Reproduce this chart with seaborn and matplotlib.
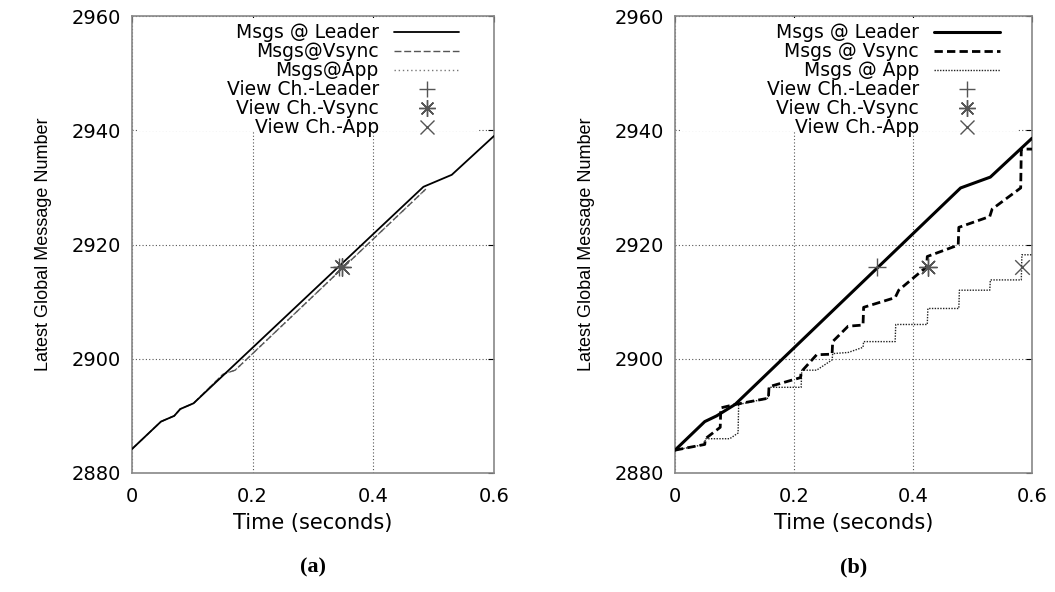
import matplotlib
matplotlib.use("Agg")
import matplotlib.pyplot as plt
from matplotlib.lines import Line2D
from matplotlib.patches import Rectangle
from matplotlib import font_manager
import seaborn as sns
import pandas as pd

# ---------------- data ----------------
# Panel (a)
leader_t_a = [0, 0.048, 0.070, 0.080, 0.102, 0.483, 0.530, 0.600]
leader_v_a = [2884.2, 2889.0, 2890.0, 2891.2, 2892.2, 2930.1, 2932.2, 2939.0]
vsync_t_a = [0, 0.048, 0.070, 0.080, 0.102, 0.151, 0.171, 0.487]
vsync_v_a = [2884.2, 2889.0, 2890.0, 2891.2, 2892.2, 2897.3, 2898.0, 2929.7]
app_t_a = [0, 0.048, 0.070, 0.080, 0.102, 0.151, 0.171, 0.487]
app_v_a = [2884.2, 2889.0, 2890.0, 2891.2, 2892.2, 2897.3, 2898.0, 2929.7]
vc_leader_a = (0.343, 2916.0)
vc_vsync_a = (0.348, 2916.0)
vc_app_a = (0.348, 2916.0)

# Panel (b)
leader_t_b = [0, 0.050, 0.070, 0.101, 0.480, 0.530, 0.600]
leader_v_b = [2884.0, 2889.0, 2890.0, 2892.0, 2929.9, 2931.8, 2938.6]
vsync_t_b = [0, 0.050, 0.051, 0.076, 0.077, 0.101, 0.157, 0.158, 0.211, 0.212,
             0.238, 0.264, 0.265, 0.291, 0.316, 0.317, 0.370, 0.376, 0.423,
             0.424, 0.476, 0.477, 0.529, 0.533, 0.581, 0.582, 0.600]
vsync_v_b = [2884.0, 2885.0, 2886.0, 2888.0, 2891.4, 2892.0, 2893.1, 2895.1, 2896.7, 2897.7,
             2900.7, 2900.8, 2903.0, 2905.7, 2905.9, 2909.0, 2910.7, 2912.0, 2916.1,
             2917.9, 2919.9, 2923.0, 2924.9, 2926.2, 2929.9, 2936.7, 2936.7]
app_t_b = [0, 0.050, 0.051, 0.092, 0.106, 0.107, 0.157, 0.158, 0.212, 0.213,
           0.238, 0.264, 0.265, 0.291, 0.316, 0.317, 0.370, 0.371, 0.424, 0.425,
           0.477, 0.478, 0.529, 0.530, 0.582, 0.583, 0.600]
app_v_b = [2884.0, 2885.0, 2886.0, 2886.0, 2887.0, 2892.0, 2893.1, 2895.0, 2895.0, 2898.0,
           2898.0, 2899.8, 2900.9, 2901.1, 2902.0, 2903.0, 2903.0, 2906.0, 2906.0, 2908.8,
           2908.8, 2912.0, 2912.0, 2913.8, 2913.8, 2918.2, 2918.2]
vc_leader_b = (0.339, 2916.0)
vc_vsync_b = (0.426, 2916.0)
vc_app_b = (0.583, 2916.0)

labels_a = ["Msgs @ Leader", "Msgs@Vsync", "Msgs@App",
            "View Ch.-Leader", "View Ch.-Vsync", "View Ch.-App"]
labels_b = ["Msgs @ Leader", "Msgs @ Vsync", "Msgs @ App",
            "View Ch.-Leader", "View Ch.-Vsync", "View Ch.-App"]
x_ticks = [0, 0.2, 0.4, 0.6]
x_ticklabels = ["0", "0.2", "0.4", "0.6"]
y_ticks = [2880, 2900, 2920, 2940, 2960]
x_label = "Time (seconds)"
y_label = "Latest Global Message Number"
captions = ["(a)", "(b)"]

# ---------------- style ----------------
sns.set_theme(style="white")
plt.rcParams["font.family"] = ["DejaVu Sans"]

avail = {f.name for f in font_manager.fontManager.ttflist}
if "Liberation Sans Narrow" in avail:
    ylab_font, ylab_size = "Liberation Sans Narrow", 15.5
else:
    ylab_font, ylab_size = "Liberation Sans", 13

STAR = (8, 2, 0)
MK_COLOR = "#555555"

fig = plt.figure(figsize=(10.55, 5.92), dpi=100)
axA = fig.add_axes([132 / 1055, 1 - 473 / 592, 362 / 1055, 457 / 592])
axB = fig.add_axes([675 / 1055, 1 - 473 / 592, 357 / 1055, 457 / 592])


def series(t, v):
    return pd.DataFrame({"t": t, "v": v})


def draw(ax, leader, vsync, app, vcl, vcv, vca, labels, thick, caption, anchor_x, key_right):
    if thick:
        lw_l, lw_v, lw_a = 2.2, 2.0, 1.0
        st_v, st_a = (0, (3, 1.5)), (0, (1, 1))
        c_v, c_a = "black", "#222222"
    else:
        lw_l, lw_v, lw_a = 1.3, 1.0, 1.0
        st_v, st_a = (0, (5, 2)), (0, (1, 2))
        c_v, c_a = "#555555", "#777777"
    sns.lineplot(data=series(*app), x="t", y="v", ax=ax, estimator=None, sort=False,
                 color=c_a, linewidth=lw_a, linestyle=st_a, zorder=3)
    sns.lineplot(data=series(*vsync), x="t", y="v", ax=ax, estimator=None, sort=False,
                 color=c_v, linewidth=lw_v, linestyle=st_v, zorder=4)
    sns.lineplot(data=series(*leader), x="t", y="v", ax=ax, estimator=None, sort=False,
                 color="black", linewidth=lw_l, zorder=5)
    sns.scatterplot(x=[vcl[0]], y=[vcl[1]], ax=ax, marker="+", s=160,
                    color=MK_COLOR, linewidth=1.0, zorder=6)
    sns.scatterplot(x=[vcv[0]], y=[vcv[1]], ax=ax, marker=STAR, s=160,
                    color=MK_COLOR, edgecolor=MK_COLOR, linewidth=1.0, zorder=6)
    sns.scatterplot(x=[vca[0]], y=[vca[1]], ax=ax, marker="x", s=110,
                    color=MK_COLOR, linewidth=1.0, zorder=6)

    ax.set_xlim(0, 0.6)
    ax.set_ylim(2880, 2960)
    ax.set_xticks(x_ticks)
    ax.set_xticklabels(x_ticklabels)
    ax.set_yticks(y_ticks)
    ax.tick_params(axis="both", labelsize=14, colors="black", direction="in",
                   length=4, width=0.8, pad=8, top=True, right=True)
    ax.tick_params(axis="x", pad=10)
    for lab in ax.get_xticklabels() + ax.get_yticklabels():
        lab.set_color("black")
    ax.set_xlabel(x_label, fontsize=15, color="black", labelpad=5)
    ax.set_ylabel(y_label, fontsize=ylab_size, family=ylab_font, color="black", labelpad=14)
    ax.set_axisbelow(True)
    ax.grid(True, color="#555555", linestyle=(0, (1, 2)), linewidth=0.8)
    for sp in ax.spines.values():
        sp.set_color("#888888")
        sp.set_linewidth(1.2)

    # opaque key area (as gnuplot draws it): hides the grid behind the key
    ax.add_patch(Rectangle((0.015, 0.748), key_right - 0.015, 0.252 - 0.004,
                           transform=ax.transAxes, facecolor="white",
                           edgecolor="none", zorder=1))

    handles = [
        Line2D([], [], color="black", linewidth=lw_l),
        Line2D([], [], color=c_v, linewidth=lw_v, linestyle=st_v),
        Line2D([], [], color=c_a, linewidth=lw_a, linestyle=st_a),
        Line2D([], [], color=MK_COLOR, marker="+", markersize=12, linestyle="none", markeredgewidth=1.0),
        Line2D([], [], color=MK_COLOR, marker=STAR, markersize=12, linestyle="none", markeredgewidth=1.0),
        Line2D([], [], color=MK_COLOR, marker="x", markersize=10, linestyle="none", markeredgewidth=1.0),
    ]
    leg = ax.legend(handles, labels, loc="upper right", bbox_to_anchor=(anchor_x, 0.992),
                    borderaxespad=0, borderpad=0.2, markerfirst=False, fontsize=13.5,
                    handlelength=3.5, handletextpad=0.8, labelspacing=0.0,
                    frameon=False)
    leg.set_zorder(10)
    for t in leg.get_texts():
        t.set_color("black")

    fig.text((ax.get_position().x0 + ax.get_position().x1) / 2, 1 - 567 / 592, caption,
             ha="center", va="center", fontsize=16, fontweight="bold",
             family="Liberation Serif", color="black")


draw(axA, (leader_t_a, leader_v_a), (vsync_t_a, vsync_v_a), (app_t_a, app_v_a),
     vc_leader_a, vc_vsync_a, vc_app_a, labels_a, False, captions[0], 0.915, 0.956)
draw(axB, (leader_t_b, leader_v_b), (vsync_t_b, vsync_v_b), (app_t_b, app_v_b),
     vc_leader_b, vc_vsync_b, vc_app_b, labels_b, True, captions[1], 0.92, 0.958)

fig.savefig("out.png", dpi=100, facecolor="white")
